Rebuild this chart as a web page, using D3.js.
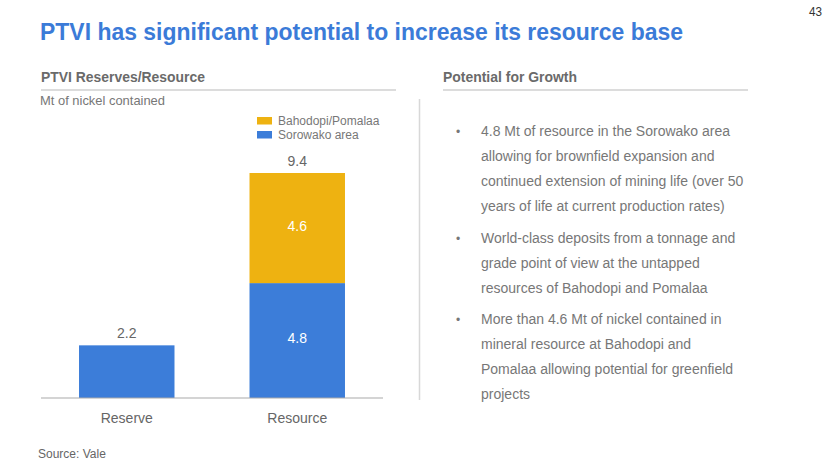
<!DOCTYPE html>
<html><head><meta charset="utf-8">
<script src="https://cdn.jsdelivr.net/npm/d3@7"></script>
<style>
html,body{margin:0;padding:0;background:#fff;}
svg{display:block;}
</style></head>
<body>
<svg id="c" width="830" height="467"></svg>
<script>
const categories = ["Reserve", "Resource"];
const seriesNames = ["Sorowako area", "Bahodopi/Pomalaa"];
const sorowako = [2.2, 4.8];
const bahodopi = [0, 4.6];
const totals = [2.2, 9.4];
const bullets = [
  ["4.8 Mt of resource in the Sorowako area", "allowing for brownfield expansion and", "continued extension of mining life (over 50", "years of life at current production rates)"],
  ["World-class deposits from a tonnage and", "grade point of view at the untapped", "resources of Bahodopi and Pomalaa"],
  ["More than 4.6 Mt of nickel contained in", "mineral resource at Bahodopi and", "Pomalaa allowing potential for greenfield", "projects"]
];

const BLUE = "#3c7dd9", YELLOW = "#eeb211", GRAY = "#777", FONT = "Liberation Sans, Arial, sans-serif";
const svg = d3.select("#c");

// title & page number
svg.append("text").attr("x", 40).attr("y", 40).attr("fill", "#3b7bd8")
  .attr("font-family", FONT).attr("font-weight", "bold")
  .attr("font-size", 24).attr("textLength", 643).attr("lengthAdjust", "spacingAndGlyphs")
  .text("PTVI has significant potential to increase its resource base");
svg.append("text").attr("x", 822).attr("y", 16).attr("text-anchor", "end").attr("fill", "#333")
  .attr("font-family", FONT).attr("font-size", 12).attr("textLength", 13).attr("lengthAdjust", "spacingAndGlyphs").text("43");

// section headers
function header(x, x2, t, w) {
  svg.append("text").attr("x", x).attr("y", 82).attr("fill", "#6a6a6a")
    .attr("font-family", FONT).attr("font-weight", "bold").attr("font-size", 15)
    .attr("textLength", w).attr("lengthAdjust", "spacingAndGlyphs").text(t);
  svg.append("line").attr("x1", x).attr("x2", x2).attr("y1", 90).attr("y2", 90).attr("stroke", "#d0d0d0").attr("stroke-width", 1.5);
}
header(41, 396, "PTVI Reserves/Resource", 164);
header(443, 748, "Potential for Growth", 134);
svg.append("line").attr("x1", 419.5).attr("x2", 419.5).attr("y1", 99).attr("y2", 400).attr("stroke", "#d8d8d8").attr("stroke-width", 1.5);

svg.append("text").attr("x", 40).attr("y", 105).attr("fill", GRAY)
  .attr("font-family", FONT).attr("font-size", 13).attr("textLength", 125).attr("lengthAdjust", "spacingAndGlyphs")
  .text("Mt of nickel contained");

// chart
const x = d3.scaleBand().domain(categories).range([41, 383]).paddingInner(0.44).paddingOuter(0.223);
const y = d3.scaleLinear().domain([0, 9.4]).range([398, 173]);
const stackData = categories.map((c, i) => ({cat: c, "Sorowako area": sorowako[i], "Bahodopi/Pomalaa": bahodopi[i]}));
const stack = d3.stack().keys(seriesNames)(stackData);
const colors = {"Sorowako area": BLUE, "Bahodopi/Pomalaa": YELLOW};
const g = svg.append("g");
stack.forEach(s => {
  g.selectAll(null).data(s.filter(d => d[1] > d[0])).enter().append("rect")
    .attr("x", d => x(d.data.cat)).attr("width", x.bandwidth())
    .attr("y", d => y(d[1])).attr("height", d => y(d[0]) - y(d[1]))
    .attr("fill", colors[s.key]);
});
// inner labels (only where stacked)
stack.forEach(s => {
  s.forEach((d, i) => {
    if (bahodopi[i] > 0 && d[1] > d[0]) {
      svg.append("text").attr("x", x(d.data.cat) + x.bandwidth() / 2).attr("y", (y(d[0]) + y(d[1])) / 2 + 2.5)
        .attr("text-anchor", "middle").attr("fill", "#fff").attr("font-family", FONT).attr("font-size", 14)
        .text(d3.format(".1f")(d[1] - d[0]));
    }
  });
});
// totals
categories.forEach((c, i) => {
  svg.append("text").attr("x", x(c) + x.bandwidth() / 2).attr("y", y(totals[i]) - 7)
    .attr("text-anchor", "middle").attr("fill", "#666").attr("font-family", FONT).attr("font-size", 14)
    .text(d3.format(".1f")(totals[i]));
});
// axis
const ax = svg.append("g").attr("transform", "translate(0,398)")
  .call(d3.axisBottom(x).tickSize(0).tickPadding(15));
ax.select(".domain").attr("stroke", "#aaa").attr("stroke-width", 1.2).attr("d", "M41,0H383");
ax.selectAll("text").attr("fill", "#666").attr("font-family", FONT).attr("font-size", 14);

// legend
const leg = [["Bahodopi/Pomalaa", YELLOW, 117], ["Sorowako area", BLUE, 131]];
leg.forEach(([t, c, yy]) => {
  svg.append("rect").attr("x", 257).attr("y", yy).attr("width", 15).attr("height", 7.5).attr("fill", c);
  svg.append("text").attr("x", 278).attr("y", yy + 8).attr("fill", "#777").attr("font-family", FONT).attr("font-size", 12).text(t);
});

svg.append("text").attr("x", 38).attr("y", 458).attr("fill", "#666")
  .attr("font-family", FONT).attr("font-size", 12).text("Source: Vale");

// bullets
let yy = 136;
bullets.forEach(b => {
  svg.append("text").attr("x", 456).attr("y", yy).attr("fill", GRAY).attr("font-family", FONT).attr("font-size", 12).text("•");
  b.forEach(line => {
    svg.append("text").attr("x", 481).attr("y", yy).attr("fill", GRAY).attr("font-family", FONT).attr("font-size", 14).text(line);
    yy += 25;
  });
  yy += 6.5;
});
</script>
</body></html>
